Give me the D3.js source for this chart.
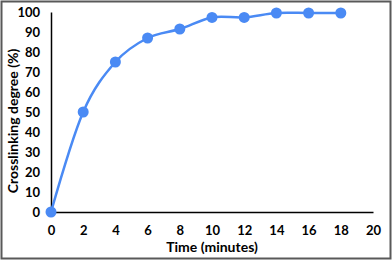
<!DOCTYPE html>
<html>
<head>
<meta charset="utf-8">
<script src="https://cdn.jsdelivr.net/npm/d3@7"></script>
<style>
  body { margin: 0; background: #fff; }
  svg text { font-family: Lato, "Open Sans", sans-serif; font-weight: bold; fill: #000; }
</style>
</head>
<body>
<svg id="chart"></svg>
<script>
// Data
const times = [0, 2, 4, 6, 8, 10, 12, 14, 16, 18];
const degrees = [0, 50, 75, 87, 91.5, 97.3, 97.3, 99.5, 99.5, 99.5];
const xTicks = [0, 2, 4, 6, 8, 10, 12, 14, 16, 18, 20];
const yTicks = [0, 10, 20, 30, 40, 50, 60, 70, 80, 90, 100];

const svgWidth = 392;
const svgHeight = 260;
const margin = { top: 12, right: 19, bottom: 48, left: 51 };
const width = svgWidth - margin.left - margin.right;
const height = svgHeight - margin.top - margin.bottom;

const svg = d3.select("#chart")
    .attr("width", svgWidth)
    .attr("height", svgHeight);

// outer frame
svg.append("rect")
    .attr("x", 1.5).attr("y", 1.5)
    .attr("width", svgWidth - 3).attr("height", svgHeight - 3)
    .attr("fill", "none")
    .attr("stroke", "#595959")
    .attr("stroke-width", 2);

const chart = svg.append("g")
    .attr("transform", `translate(${margin.left},${margin.top})`);

const x = d3.scaleLinear().domain([0, 20]).range([0, width]);
const y = d3.scaleLinear().domain([0, 100]).range([height, 0]);

// axes
const xAxis = chart.append("g")
    .attr("transform", `translate(0,${height})`)
    .call(d3.axisBottom(x).tickValues(xTicks).tickSize(0).tickPadding(14));
xAxis.select(".domain").attr("stroke", "#000").attr("stroke-width", 1.5);
xAxis.selectAll("text").style("font-size", "13px");

const yAxis = chart.append("g")
    .call(d3.axisLeft(y).tickValues(yTicks).tickSize(0).tickPadding(11));
yAxis.select(".domain").attr("stroke", "#000").attr("stroke-width", 1.5);
yAxis.selectAll("text").style("font-size", "13px");

// line
const points = times.map((t, i) => ({ t, v: degrees[i] }));
const line = d3.line()
    .x(d => x(d.t))
    .y(d => y(d.v))
    .curve(d3.curveCatmullRom.alpha(0));

chart.append("path")
    .datum(points)
    .attr("fill", "none")
    .attr("stroke", "#4a8af4")
    .attr("stroke-width", 2.5)
    .attr("d", line);

chart.selectAll(".dot")
    .data(points)
    .enter().append("circle")
    .attr("class", "dot")
    .attr("cx", d => x(d.t))
    .attr("cy", d => y(d.v))
    .attr("r", 5.5)
    .attr("fill", "#4a8af4");

// axis titles
svg.append("text")
    .attr("x", 212)
    .attr("y", 252)
    .attr("text-anchor", "middle")
    .style("font-size", "14px")
    .text("Time (minutes)");

svg.append("text")
    .attr("transform", `translate(12,121) rotate(-90)`)
    .attr("text-anchor", "middle")
    .attr("dominant-baseline", "central")
    .style("font-size", "14px")
    .text("Crosslinking degree (%)");
</script>
</body>
</html>
